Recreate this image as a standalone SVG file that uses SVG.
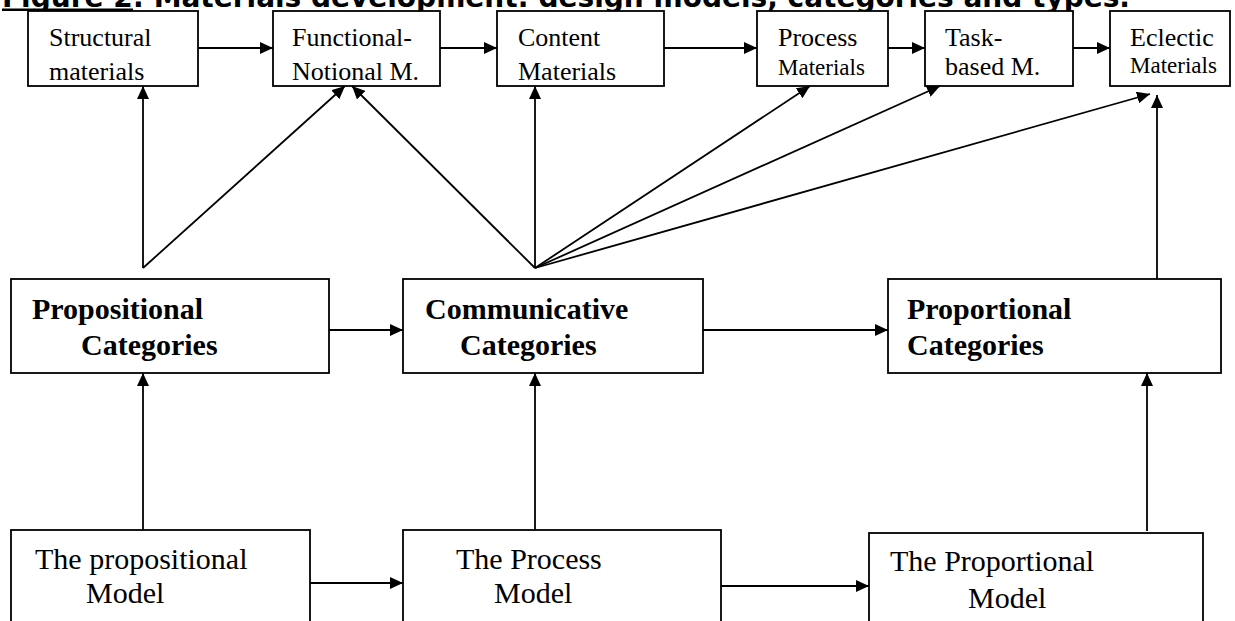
<svg xmlns="http://www.w3.org/2000/svg" width="1235" height="621" viewBox="0 0 1235 621">
<style>
.box{fill:#fff;stroke:#000;stroke-width:1.8}
.t{font-family:"Liberation Serif","Times New Roman",serif;fill:#000}
.s26{font-size:26px}
.s23{font-size:23px}
.b30{font-size:30px;font-weight:bold}
.r30{font-size:30px}
.title{font-family:"DejaVu Sans",Verdana,sans-serif;font-weight:bold;font-size:28px;fill:#000}
.c line{stroke:#000;stroke-width:1.8;fill:none}
.a{marker-end:url(#ah)}
</style>
<defs>
<marker id="ah" markerUnits="userSpaceOnUse" markerWidth="14" markerHeight="12" refX="13" refY="6" orient="auto">
<path d="M0,0 L13,6 L0,12 z" fill="#000"/>
</marker>
</defs>
<rect width="1235" height="621" fill="#fff"/>
<g id="title">
<text class="title" x="2" y="7" textLength="1128" lengthAdjust="spacingAndGlyphs">Figure 2: Materials development: design models, categories and types.</text>
<rect x="2" y="8.5" width="131" height="2.5" fill="#000"/>
</g>
<g id="structural"><rect class="box" x="28" y="11" width="170" height="75"/>
<text class="t s26" x="49" y="46">Structural</text><text class="t s26" x="49" y="80">materials</text></g>
<g id="functional"><rect class="box" x="273" y="11" width="167" height="75"/>
<text class="t s26" x="292" y="46">Functional-</text><text class="t s26" x="292" y="80">Notional M.</text></g>
<g id="content"><rect class="box" x="497" y="11" width="167" height="75"/>
<text class="t s26" x="518" y="46">Content</text><text class="t s26" x="518" y="80">Materials</text></g>
<g id="process"><rect class="box" x="757" y="11" width="131" height="75"/>
<text class="t s26" x="778" y="46">Process</text><text class="t s23" x="778" y="75">Materials</text></g>
<g id="task"><rect class="box" x="925" y="11" width="148" height="75"/>
<text class="t s26" x="945" y="46">Task-</text><text class="t s26" x="945" y="75">based M.</text></g>
<g id="eclectic"><rect class="box" x="1110" y="11" width="120" height="75"/>
<text class="t s26" x="1130" y="46">Eclectic</text><text class="t s23" x="1130" y="73">Materials</text></g>
<g id="propositional-cat"><rect class="box" x="11" y="279" width="318" height="94"/>
<text class="t b30" x="32" y="319">Propositional</text><text class="t b30" x="81" y="355">Categories</text></g>
<g id="communicative-cat"><rect class="box" x="403" y="279" width="300" height="94"/>
<text class="t b30" x="425" y="319">Communicative</text><text class="t b30" x="460" y="355">Categories</text></g>
<g id="proportional-cat"><rect class="box" x="888" y="279" width="333" height="94"/>
<text class="t b30" x="907" y="319">Proportional</text><text class="t b30" x="907" y="355">Categories</text></g>
<g id="propositional-model"><rect class="box" x="11" y="530" width="299" height="100"/>
<text class="t r30" x="35" y="569">The propositional</text><text class="t r30" x="86" y="603">Model</text></g>
<g id="process-model"><rect class="box" x="403" y="530" width="318" height="100"/>
<text class="t r30" x="456" y="569">The Process</text><text class="t r30" x="494" y="603">Model</text></g>
<g id="proportional-model"><rect class="box" x="869" y="533" width="334" height="100"/>
<text class="t r30" x="890" y="571">The Proportional</text><text class="t r30" x="968" y="608">Model</text></g>
<g id="connectors" class="c">
<line class="a" x1="198" y1="48" x2="273" y2="48"/>
<line class="a" x1="440" y1="48" x2="497" y2="48"/>
<line class="a" x1="664" y1="48" x2="757" y2="48"/>
<line class="a" x1="888" y1="48" x2="925" y2="48"/>
<line class="a" x1="1073" y1="48" x2="1110" y2="48"/>
<line class="a" x1="143" y1="268" x2="143" y2="86"/>
<line class="a" x1="143" y1="268" x2="345" y2="86"/>
<line class="a" x1="535" y1="268" x2="352" y2="86"/>
<line class="a" x1="535" y1="268" x2="535" y2="86"/>
<line class="a" x1="535" y1="268" x2="810" y2="86"/>
<line class="a" x1="535" y1="268" x2="940" y2="86"/>
<line class="a" x1="535" y1="268" x2="1150" y2="94"/>
<line class="a" x1="1157" y1="279" x2="1157" y2="95"/>
<line class="a" x1="329" y1="330" x2="403" y2="330"/>
<line class="a" x1="703" y1="330" x2="888" y2="330"/>
<line class="a" x1="143" y1="530" x2="143" y2="373"/>
<line class="a" x1="535" y1="530" x2="535" y2="373"/>
<line class="a" x1="1147" y1="531" x2="1147" y2="373"/>
<line class="a" x1="310" y1="583" x2="403" y2="583"/>
<line class="a" x1="721" y1="586" x2="869" y2="586"/>
</g>
</svg>
